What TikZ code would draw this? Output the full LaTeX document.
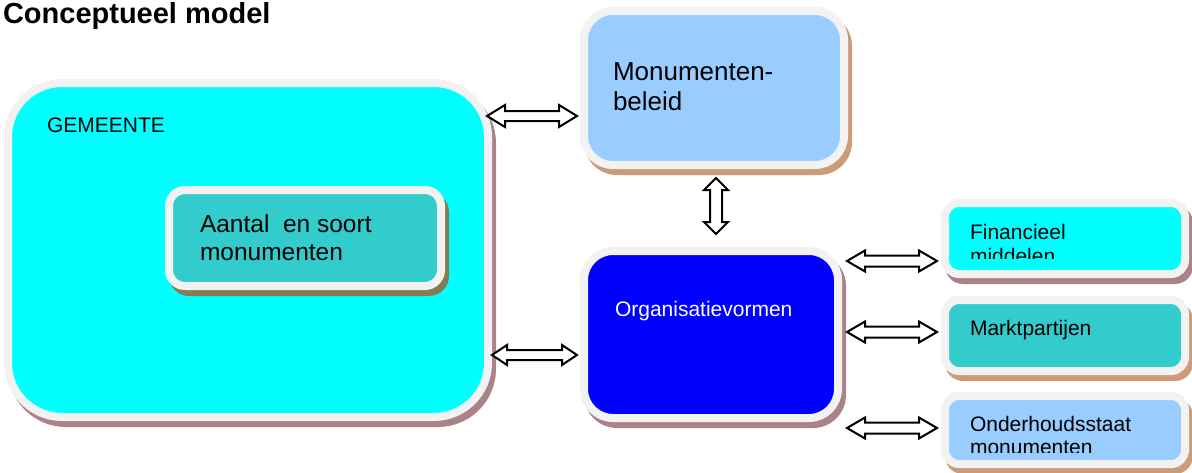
\documentclass[tikz,border=0pt]{standalone}
\usepackage{fontspec}
\setmainfont{Liberation Sans}
\usetikzlibrary{calc}
\definecolor{bordergray}{RGB}{242,242,242}
\definecolor{lightblue}{RGB}{153,204,255}
\definecolor{boxteal}{RGB}{51,204,204}
\definecolor{boxcyan}{RGB}{0,255,255}
\definecolor{boxblue}{RGB}{0,0,255}
\definecolor{tanshadow}{RGB}{205,155,120}
\definecolor{mauveshadow}{RGB}{170,130,135}
\definecolor{oliveshadow}{RGB}{130,125,85}
\newcommand\harrowbetween[5]{%
  \draw[blockarrow] (#1) -- ++(#3,#4) -- ++(0,{-(#4-#5)}) -- ($(#2)+(-#3,#5)$)
    -- ++(0,{#4-#5}) -- (#2) -- ++(-#3,-#4) -- ++(0,{#4-#5})
    -- ($(#1)+(#3,-#5)$) -- ++(0,{-(#4-#5)}) -- cycle;}
\newcommand\varrowbetween[5]{%
  \draw[blockarrow] (#1) -- ++(#4,#3) -- ++({-(#4-#5)},0) -- ($(#2)+(#5,-#3)$)
    -- ++({#4-#5},0) -- (#2) -- ++(-#4,-#3) -- ++({#4-#5},0)
    -- ($(#1)+(-#5,#3)$) -- ++({-(#4-#5)},0) -- cycle;}
\begin{document}
\begin{tikzpicture}[x=1pt,y=-1pt,
  cbox/.style={draw=bordergray, line width=8pt, inner sep=0pt, outer sep=0pt},
  txt/.style={anchor=base west, inner sep=0pt, outer sep=0pt, align=left},
  blockarrow/.style={draw=black, fill=white, line width=2pt, line join=miter}]
\useasboundingbox (0,0) rectangle (1192,472);

% title
\node[txt, font=\bfseries\fontsize{29}{32}\selectfont] (title) at (3,23) {Conceptueel model};

% shadows
\fill[tanshadow, rounded corners=33pt] (584,13) rectangle (852,175);
\fill[mauveshadow, rounded corners=58pt] (8,85) rectangle (496,427);
\fill[mauveshadow, rounded corners=33pt] (584,253) rectangle (846,428);
\fill[mauveshadow, rounded corners=18pt] (945,205) rectangle (1193,284);
\fill[tanshadow, rounded corners=18pt] (945,302) rectangle (1193,381);
\fill[tanshadow, rounded corners=18pt] (945,398) rectangle (1193,474);

% boxes
\node[cbox, fill=lightblue, rounded corners=29pt, minimum width=260pt, minimum height=154pt] (mon) at (714,88) {};
\node[cbox, fill=boxcyan, rounded corners=54pt, minimum width=480pt, minimum height=334pt] (gem) at (248,250) {};
\fill[oliveshadow, rounded corners=20pt] (169,192) rectangle (449,296);
\node[cbox, fill=boxteal, rounded corners=16pt, minimum width=272pt, minimum height=96pt] (aan) at (305,238) {};
\node[cbox, fill=boxblue, rounded corners=29pt, minimum width=254pt, minimum height=167pt] (org) at (711,334.5) {};
\node[cbox, fill=boxcyan, rounded corners=14pt, minimum width=240pt, minimum height=71pt] (fin) at (1065,238.5) {};
\node[cbox, fill=boxteal, rounded corners=14pt, minimum width=240pt, minimum height=71pt] (mkt) at (1065,335.5) {};
\node[cbox, fill=lightblue, rounded corners=14pt, minimum width=240pt, minimum height=68pt] (ond) at (1065,430) {};

% texts
\node[txt, font=\fontsize{26}{30}\selectfont] (mont) at (613,80) {\vtop{\hbox{Monumenten-}\hbox{beleid}}};
\node[txt, font=\fontsize{21}{24}\selectfont] (gemt) at (47,132) {GEMEENTE};
\node[txt, font=\fontsize{24.5}{28}\selectfont] (aant) at (200,232) {\vtop{\hbox{Aantal\ \ en soort}\hbox{monumenten}}};
\node[txt, font=\fontsize{21}{24}\selectfont, text=white] (orgt) at (615,316) {Organisatievormen};
\begin{scope}
  \clip (941,199) rectangle (1189,258);
  \node[txt, font=\fontsize{21}{24}\selectfont] (fint) at (970,239) {\vtop{\hbox{Financieel}\hbox{middelen}}};
\end{scope}
\node[txt, font=\fontsize{21}{24}\selectfont] (mktt) at (970,335) {Marktpartijen};
\begin{scope}
  \clip (941,392) rectangle (1189,452);
  \node[txt, font=\fontsize{21}{23}\selectfont] (ondt) at (970,431) {\vtop{\hbox{Onderhoudsstaat}\hbox{monumenten}}};
\end{scope}

% connector end points
\coordinate (a1s) at (487,116);  \coordinate (a1e) at (577,116);
\coordinate (a2s) at (492,355);  \coordinate (a2e) at (577,355);
\coordinate (a3s) at (716,178);  \coordinate (a3e) at (716,234);
\coordinate (a4s) at (847,261);  \coordinate (a4e) at (937,261);
\coordinate (a5s) at (847,332);  \coordinate (a5e) at (937,332);
\coordinate (a6s) at (847,428);  \coordinate (a6e) at (937,428);

% block arrows
\harrowbetween{a1s}{a1e}{18}{11}{5}
\harrowbetween{a2s}{a2e}{15}{10}{5}
\varrowbetween{a3s}{a3e}{12}{12}{6}
\harrowbetween{a4s}{a4e}{18}{10.5}{5.5}
\harrowbetween{a5s}{a5e}{18}{10.5}{5.5}
\harrowbetween{a6s}{a6e}{18}{10.5}{5.5}
\end{tikzpicture}
\end{document}
